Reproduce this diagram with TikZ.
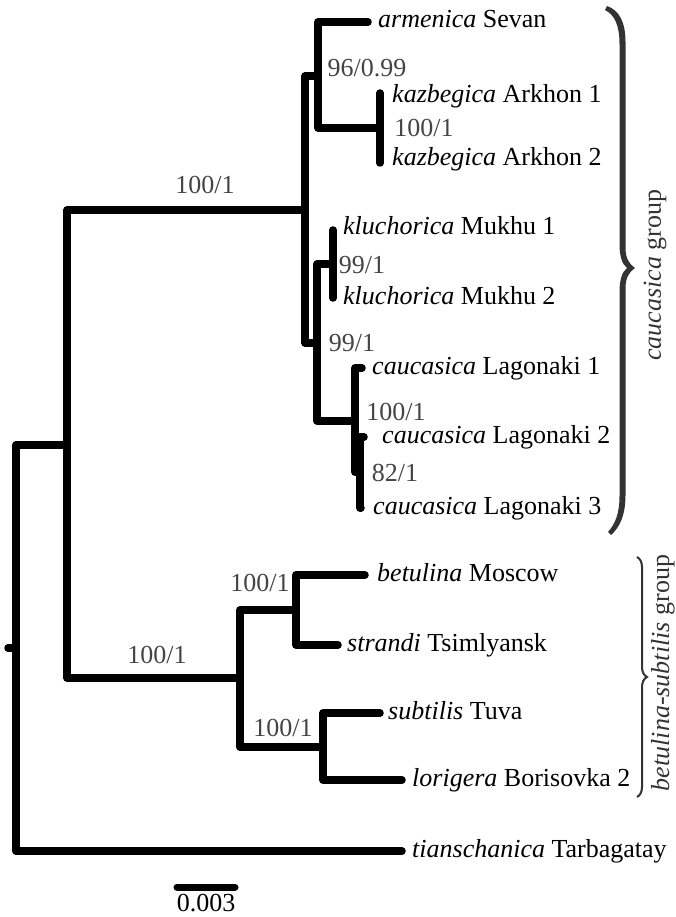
\documentclass[tikz,border=0pt]{standalone}
\usepackage{fontspec}
\setmainfont{Liberation Serif}
\usetikzlibrary{decorations.pathreplacing}
\definecolor{supgray}{HTML}{444444}
\definecolor{bracegray}{HTML}{333333}
\begin{document}
\begin{tikzpicture}[x=1pt,y=-1pt,
  branch/.style={line width=7.5pt,line cap=round,line join=round},
  taxon/.style={anchor=west,inner sep=0pt,font=\fontsize{26}{30}\selectfont,text height=18pt,text depth=6pt},
  support/.style={inner sep=0pt,text=supgray,font=\fontsize{26}{30}\selectfont},
  grouplab/.style={inner sep=0pt,rotate=90,text=bracegray,font=\fontsize{26}{30}\selectfont}
]
\useasboundingbox (0,0) rectangle (675,917);
% internal nodes
\coordinate (rs) at (8,648);
\coordinate (r) at (16,648);
\coordinate (A) at (67,445);
\coordinate (B) at (305,210);
\coordinate (C) at (240,678);
\coordinate (D) at (318,76);
\coordinate (E) at (317,343);
\coordinate (F) at (380,128);
\coordinate (G) at (333,264);
\coordinate (H) at (355,421);
\coordinate (I) at (360,472);
\coordinate (J) at (296,610);
\coordinate (K) at (323,747);
% leaf tips
\coordinate (tArm) at (368,22);
\coordinate (tKz1) at (380,93);
\coordinate (tKz2) at (380,163);
\coordinate (tKl1) at (333,230);
\coordinate (tKl2) at (333,298);
\coordinate (tLg1) at (362,368);
\coordinate (tLg2) at (364,437);
\coordinate (tLg3) at (361,508);
\coordinate (tBet) at (365,575);
\coordinate (tStr) at (338,645);
\coordinate (tSub) at (380,713);
\coordinate (tLor) at (402,780);
\coordinate (tTia) at (402,851);
% branches
\draw[branch] (r) -- (rs);
\draw[branch] (r) |- (A);
\draw[branch] (r) |- (tTia);
\draw[branch] (A) |- (B);
\draw[branch] (A) |- (C);
\draw[branch] (B) |- (D);
\draw[branch] (B) |- (E);
\draw[branch] (D) |- (tArm);
\draw[branch] (D) |- (F);
\draw[branch] (F) -- (tKz1);
\draw[branch] (F) -- (tKz2);
\draw[branch] (E) |- (G);
\draw[branch] (E) |- (H);
\draw[branch] (G) -- (tKl1);
\draw[branch] (G) -- (tKl2);
\draw[branch] (H) |- (tLg1);
\draw[branch] (H) |- (I);
\draw[branch] (I) |- (tLg2);
\draw[branch] (I) |- (tLg3);
\draw[branch] (C) |- (J);
\draw[branch] (C) |- (K);
\draw[branch] (J) |- (tBet);
\draw[branch] (J) |- (tStr);
\draw[branch] (K) |- (tSub);
\draw[branch] (K) |- (tLor);
% taxon labels
\node[taxon] (lArm) at (378,22) {\textit{armenica} Sevan};
\node[taxon] (lKz1) at (392,97) {\textit{kazbegica} Arkhon 1};
\node[taxon] (lKz2) at (392,160) {\textit{kazbegica} Arkhon 2};
\node[taxon] (lKl1) at (343,228) {\textit{kluchorica} Mukhu 1};
\node[taxon] (lKl2) at (343,298) {\textit{kluchorica} Mukhu 2};
\node[taxon] (lLg1) at (372,368) {\textit{caucasica} Lagonaki 1};
\node[taxon] (lLg2) at (382,437) {\textit{caucasica} Lagonaki 2};
\node[taxon] (lLg3) at (373,508) {\textit{caucasica} Lagonaki 3};
\node[taxon] (lBet) at (377,575) {\textit{betulina} Moscow};
\node[taxon] (lStr) at (347,645) {\textit{strandi} Tsimlyansk};
\node[taxon] (lSub) at (388,713) {\textit{subtilis} Tuva};
\node[taxon] (lLor) at (412,780) {\textit{lorigera} Borisovka 2};
\node[taxon] (lTia) at (412,851) {\textit{tianschanica} Tarbagatay};
% support values
\node[support] (sB) at (205,185) {100/1};
\node[support] (sD) at (367,68) {96/0.99};
\node[support] (sF) at (424,128) {100/1};
\node[support] (sG) at (362,265) {99/1};
\node[support] (sE) at (352,343) {99/1};
\node[support] (sH) at (396,412) {100/1};
\node[support] (sI) at (395,473) {82/1};
\node[support] (sC) at (157,655) {100/1};
\node[support] (sJ) at (260,583) {100/1};
\node[support] (sK) at (283,728) {100/1};
% caucasica brace (filled, tapered)
\fill[bracegray] (607,6) .. controls (619,10) and (625.5,22) .. (625.5,42)
  -- (625.5,248) .. controls (625.5,258) and (629,264) .. (635,268)
  .. controls (629,272) and (625.5,278) .. (625.5,288)
  -- (625.5,495) .. controls (625.5,515) and (620,527) .. (611,535)
  -- (608,532) .. controls (615,524) and (619.5,514) .. (619.5,496)
  -- (619.5,292) .. controls (619.5,280) and (622,272) .. (627,268)
  .. controls (622,264) and (619.5,256) .. (619.5,244)
  -- (619.5,44) .. controls (619.5,26) and (615,15) .. (605,10) -- cycle;
\node[grouplab] (gC) at (655,275) {\textit{caucasica} group};
% betulina-subtilis brace
\coordinate (bb1) at (637,557);
\coordinate (bb2) at (637,797);
\draw[bracegray,line width=2pt,decorate,decoration={brace,amplitude=10pt}] (bb1) -- (bb2);
\node[grouplab] (gB) at (663,673) {\textit{betulina-subtilis} group};
% scale bar
\coordinate (s1) at (177,887);
\coordinate (s2) at (235,887);
\draw[line width=7pt,line cap=round] (s1) -- (s2);
\node[inner sep=0pt,font=\fontsize{26}{30}\selectfont] (sLab) at (206,903) {0.003};
\end{tikzpicture}
\end{document}
